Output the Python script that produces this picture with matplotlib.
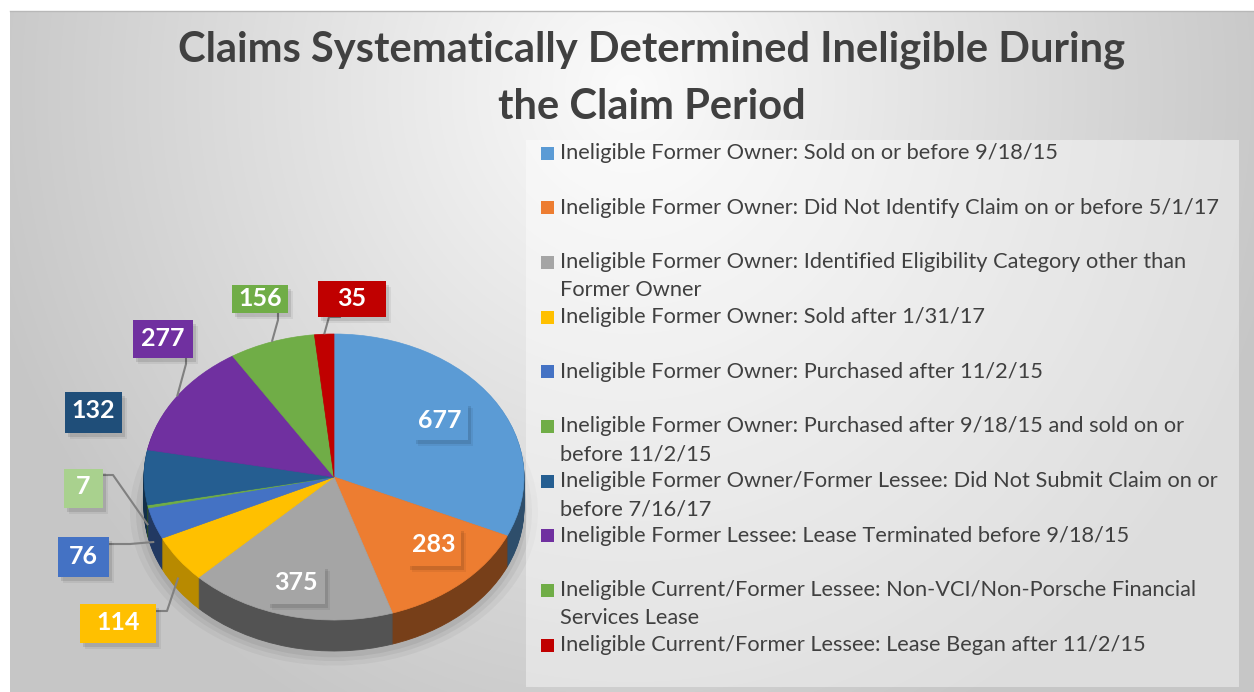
import numpy as np
import matplotlib
matplotlib.use("Agg")
import matplotlib.pyplot as plt
from matplotlib.transforms import Affine2D
from matplotlib.patches import Rectangle
from matplotlib import colors as mcolors

title = "Claims Systematically Determined Ineligible During\nthe Claim Period"

categories = [
    "Ineligible Former Owner: Sold on or before 9/18/15",
    "Ineligible Former Owner: Did Not Identify Claim on or before 5/1/17",
    "Ineligible Former Owner: Identified Eligibility Category other than\nFormer Owner",
    "Ineligible Former Owner: Sold after 1/31/17",
    "Ineligible Former Owner: Purchased after 11/2/15",
    "Ineligible Former Owner: Purchased after 9/18/15 and sold on or\nbefore 11/2/15",
    "Ineligible Former Owner/Former Lessee: Did Not Submit Claim on or\nbefore 7/16/17",
    "Ineligible Former Lessee: Lease Terminated before 9/18/15",
    "Ineligible Current/Former Lessee: Non-VCI/Non-Porsche Financial\nServices Lease",
    "Ineligible Current/Former Lessee: Lease Began after 11/2/15",
]
counts = [677, 283, 375, 114, 76, 7, 132, 277, 156, 35]
slice_colors = ["#5b9bd5", "#ed7d31", "#a5a5a5", "#ffc000", "#4472c4",
                "#70ad47", "#255e91", "#7030a0", "#70ad47", "#c00000"]
label_colors = ["#5b9bd5", "#ed7d31", "#a5a5a5", "#ffc000", "#4472c4",
                "#a9d18e", "#1f4e79", "#7030a0", "#70ad47", "#c00000"]

FONT = ["Lato", "DejaVu Sans"]
W, H = 1254, 692
fig = plt.figure(figsize=(W / 100, H / 100), dpi=100)
fig.patch.set_facecolor("white")
ax = fig.add_axes([0, 0, 1, 1])
ax.set_axis_off()

# chart area background (soft radial gradient)
xx, yy = np.meshgrid(np.arange(10, W), np.arange(11, H))
r = np.sqrt(((xx - 630) / 660.0) ** 2 + ((yy - 90) / 700.0) ** 2)
g = np.clip(0.985 - 0.205 * r, 0.78, 1.0)
ax.imshow(np.dstack([g, g, g]), extent=(10, W, 0, H - 11), origin="upper",
          zorder=0, interpolation="bilinear")
ax.plot([10, W], [H - 11, H - 11], color="#b8b8b8", lw=1, zorder=1)

# pie geometry (pixels, y up)
cx, cy = 334, H - 477
rad, ry = 190, 143
k = ry / rad
depth = 31


def squash(shift):
    return Affine2D().translate(-cx, -cy).scale(1, k).translate(cx, cy - shift) + ax.transData


# soft shadow under the pie
for s, a in [(14, 0.04), (8, 0.05), (3, 0.06)]:
    sh, _ = ax.pie([1], colors=["black"], radius=rad + s, center=(cx, cy), frame=True)
    sh[0].set_transform(squash(depth + 4))
    sh[0].set_alpha(a)
    sh[0].set_zorder(1)

side_colors = [tuple(np.array(mcolors.to_rgb(c)) * 0.5) for c in slice_colors]
side_colors[3] = tuple(np.array(mcolors.to_rgb(slice_colors[3])) * 0.72)
for d in range(depth, 0, -1):
    wedges, _ = ax.pie(counts, colors=side_colors, startangle=90, counterclock=False,
                       radius=rad, center=(cx, cy), frame=True)
    for w in wedges:
        w.set_transform(squash(d))
        w.set_edgecolor(w.get_facecolor())
        w.set_linewidth(0.6)
        w.set_zorder(2)

wedges, _ = ax.pie(counts, colors=slice_colors, startangle=90, counterclock=False,
                   radius=rad, center=(cx, cy), frame=True)
for w in wedges:
    w.set_transform(squash(0))
    w.set_edgecolor(w.get_facecolor())
    w.set_linewidth(0.5)
    w.set_zorder(3)

ax.set_xlim(0, W)
ax.set_ylim(0, H)
ax.set_aspect("auto")

# data label boxes: center x, center y, width, height (image pixels)
label_box = [(440, 421, 55, 38), (434, 546, 54, 39), (296, 584, 58, 39),
             (118, 623, 76, 39), (83, 557, 51, 40), (83, 488, 39, 39),
             (93, 412, 57, 41), (163, 339, 60, 38), (260, 299, 56, 28),
             (352, 299, 68, 36)]
leaders = [None, None, None,
           [(156, 611), (167, 611)],
           [(109, 544), (130, 544)],
           [(102, 475), (113, 475)],
           None,
           [(186, 358), (186, 364)],
           [(278, 313), (278, 320)],
           [(341, 317), (329, 317)]]

total = float(sum(counts))
cum = np.cumsum([0] + counts)
for i, v in enumerate(counts):
    if leaders[i] is not None:
        theta = np.deg2rad((cum[i] + v / 2.0) / total * 360.0)
        tx = cx + rad * np.sin(theta)
        ty = cy + ry * np.cos(theta)
        if np.cos(theta) < 0:
            ty -= depth * 0.6
        pts = [(p[0], H - p[1]) for p in leaders[i]] + [(tx, ty)]
        ax.plot([p[0] for p in pts], [p[1] for p in pts], color="#808080",
                lw=1.5, zorder=4, solid_capstyle="butt")
    bx, by, bw, bh = label_box[i]
    for off, a in [(5, 0.06), (3, 0.1)]:
        ax.add_patch(Rectangle((bx - bw / 2 + off, H - by - bh / 2 - off - 1), bw, bh,
                               facecolor="black", alpha=a, edgecolor="none", zorder=4))
    ax.add_patch(Rectangle((bx - bw / 2, H - by - bh / 2), bw, bh,
                           facecolor=label_colors[i], edgecolor="none", zorder=5))
    ax.text(bx, H - by + 1, str(v), ha="center", va="center", color="white",
            fontsize=18, fontweight="bold", family=FONT, zorder=6)

# legend panel
ax.add_patch(Rectangle((526, H - 687), 1239 - 526, 687 - 140, facecolor="white",
                       alpha=0.42, edgecolor="none", zorder=1))
row_y0, row_step = 153, 54.67
for i, name in enumerate(categories):
    y = row_y0 + i * row_step
    ax.add_patch(Rectangle((541, H - y - 6.5), 13, 13, facecolor=slice_colors[i],
                           edgecolor="none", zorder=3))
    ax.text(560, H - y + 10, name, ha="left", va="top", color="#404040",
            fontsize=15.7, family=FONT, linespacing=1.5, zorder=3)

ax.text(652, H - 78, title, ha="center", va="center", color="#404040",
        fontsize=30, fontweight="bold", family=FONT,
        linespacing=1.6, zorder=3)

fig.savefig("out.png", dpi=100, facecolor="white")
